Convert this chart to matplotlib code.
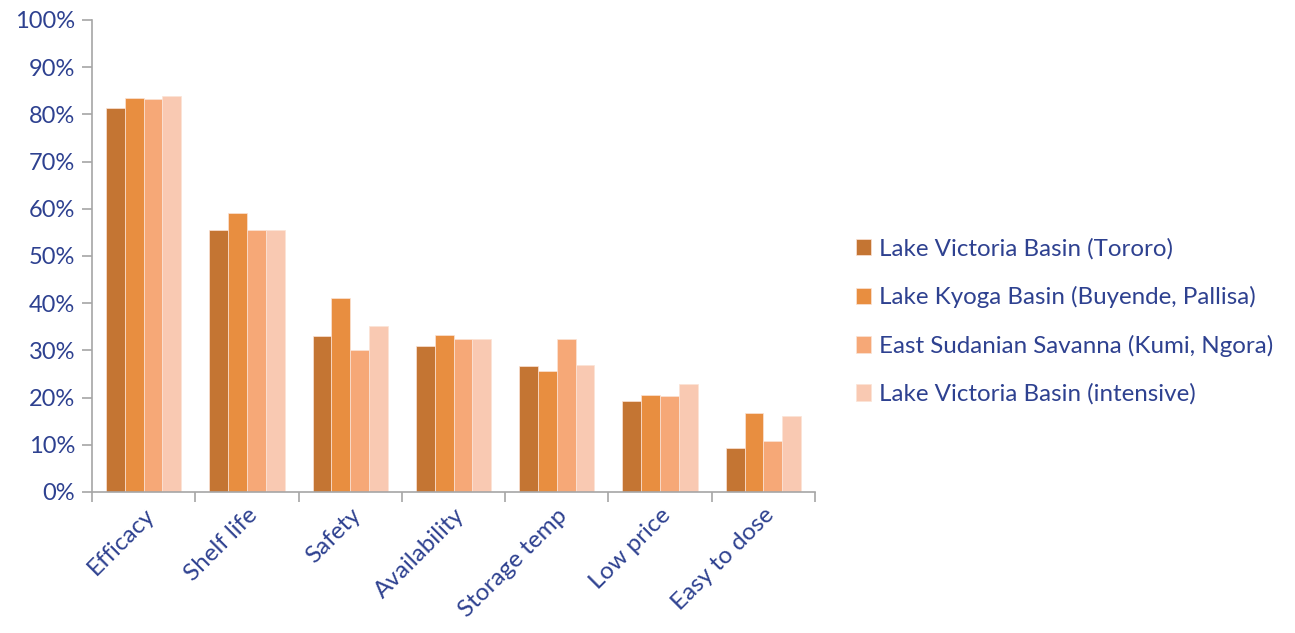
import numpy as np
from matplotlib import pyplot as plt
from matplotlib.ticker import PercentFormatter

categories = ["Efficacy", "Shelf life", "Safety", "Availability",
              "Storage temp", "Low price", "Easy to dose"]
series_names = ["Lake Victoria Basin (Tororo)",
                "Lake Kyoga Basin (Buyende, Pallisa)",
                "East Sudanian Savanna (Kumi, Ngora)",
                "Lake Victoria Basin (intensive)"]
tororo = [81.4, 55.5, 33.0, 30.9, 26.6, 19.3, 9.3]
kyoga = [83.4, 59.1, 41.0, 33.3, 25.6, 20.5, 16.7]
savanna = [83.2, 55.5, 30.0, 32.5, 32.5, 20.4, 10.8]
intensive = [83.9, 55.5, 35.2, 32.4, 27.0, 22.9, 16.1]

colors = ["#C47533", "#E88E40", "#F6A877", "#F9C9B2"]
text_col = "#2E4190"
grey = "#A6A6A6"

plt.rcParams['font.family'] = ['Lato', 'DejaVu Sans']

fig = plt.figure(figsize=(12.95, 6.33), dpi=100)
ax = fig.add_axes([92 / 1295, 1 - 492 / 633, (815 - 92) / 1295, (492 - 20) / 633])

x = np.arange(len(categories))
w = 0.182
for i, vals in enumerate([tororo, kyoga, savanna, intensive]):
    ax.bar(x + (i - 1.5) * w, vals, w, color=colors[i], label=series_names[i],
           edgecolor="#FBE3D6", linewidth=0.5)

ax.set_xlim(-0.5, len(categories) - 0.5)
ax.set_ylim(0, 100)
ax.set_yticks(range(0, 101, 10))
ax.yaxis.set_major_formatter(PercentFormatter(decimals=0))

# tick marks sit on the category boundaries, labels in the middle
ax.set_xticks(np.arange(-0.5, len(categories)), minor=False)
ax.set_xticklabels([])
ax.set_xticks(x, minor=True)
ax.set_xticklabels(categories, minor=True, rotation=45, ha="right",
                   rotation_mode="anchor", fontsize=17.5, color=text_col)
ax.tick_params(axis="x", which="minor", length=0, pad=9)
ax.tick_params(axis="x", which="major", length=7, color=grey, width=1.2)
ax.tick_params(axis="y", length=7, color=grey, width=1.2, labelsize=17,
               labelcolor=text_col, pad=5)

for s in ["top", "right"]:
    ax.spines[s].set_visible(False)
for s in ["left", "bottom"]:
    ax.spines[s].set_color(grey)
    ax.spines[s].set_linewidth(1.2)

ax.legend(loc="center left", bbox_to_anchor=(834 / 1295, 0.492),
          bbox_transform=fig.transFigure, frameon=False, fontsize=17.4,
          labelcolor=text_col, handlelength=0.65, handleheight=0.65,
          handletextpad=0.3, labelspacing=1.1)

plt.savefig("out.png", dpi=100)
